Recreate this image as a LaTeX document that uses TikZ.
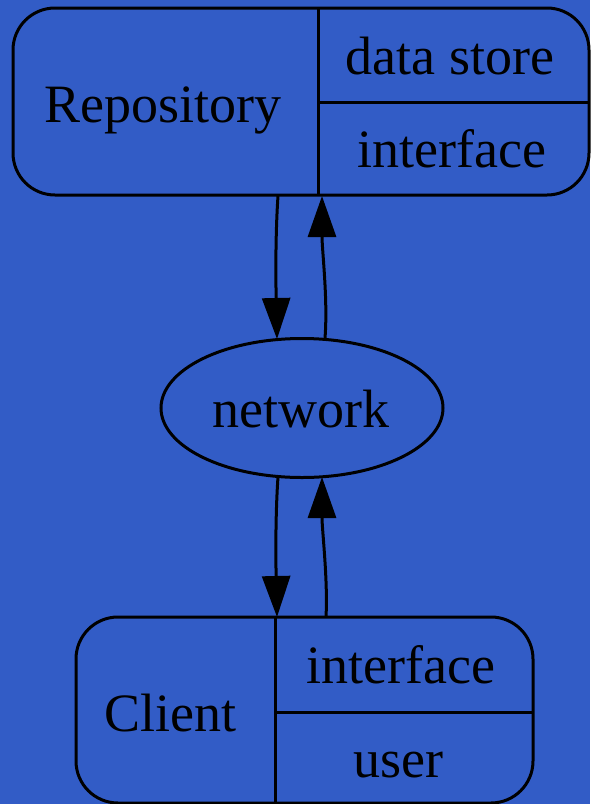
\documentclass[tikz,border=0pt]{standalone}
\usepackage{fontspec}
\setmainfont{Liberation Serif}
\usetikzlibrary{arrows.meta,shapes.geometric}
\definecolor{bg}{RGB}{50,92,198}
\begin{document}
\begin{tikzpicture}[x=1pt,y=-1pt,
  line width=3pt,
  lbl/.style={anchor=base,inner sep=0pt,font=\fontsize{54}{60}\selectfont},
  recbox/.style={draw,rounded corners=42pt,inner sep=0pt},
  edge/.style={-{Triangle[length=41pt,width=28pt]}}]
\useasboundingbox (0,0) rectangle (590,804);
\fill[bg] (0,0) rectangle (590,804);
% Repository
\node[recbox,minimum width=576pt,minimum height=187pt] (repo) at (301,101.5) {};
\draw (318,8) coordinate (rdt) -- (318,195) coordinate (rdb);
\draw (318,102) coordinate (rhl) -- (589,102) coordinate (rhr);
\node[lbl] (repoT) at (163,122) {Repository};
\node[lbl] (ds) at (450,74) {data store};
\node[lbl] (rif) at (452,167) {interface};
% network
\node[draw,ellipse,minimum width=282pt,minimum height=139pt,inner sep=0pt] (net) at (302,408) {};
\node[lbl] (netT) at (301,427) {network};
% Client
\node[recbox,minimum width=457pt,minimum height=186pt] (cli) at (304.5,710) {};
\draw (275,617) coordinate (cdt) -- (275,803) coordinate (cdb);
\draw (275,712) coordinate (chl) -- (533,712) coordinate (chr);
\node[lbl] (cliT) at (170,731) {Client};
\node[lbl] (cif) at (401,683) {interface};
\node[lbl] (usr) at (398,777) {user};
% connector end points
\coordinate (r1) at (278,196);
\coordinate (r2) at (322,196);
\coordinate (n1) at (277,339);
\coordinate (n2) at (325,338);
\coordinate (n3) at (278,477);
\coordinate (n4) at (322,477);
\coordinate (c1) at (277,617);
\coordinate (c2) at (326,617);
% connectors
\draw[edge] (r1) .. controls (275,240) and (276,290) .. (n1);
\draw[edge] (n2) .. controls (328,300) and (322,250) .. (r2);
\draw[edge] (n3) .. controls (275,520) and (276,570) .. (c1);
\draw[edge] (c2) .. controls (328,580) and (322,530) .. (n4);
\end{tikzpicture}
\end{document}
